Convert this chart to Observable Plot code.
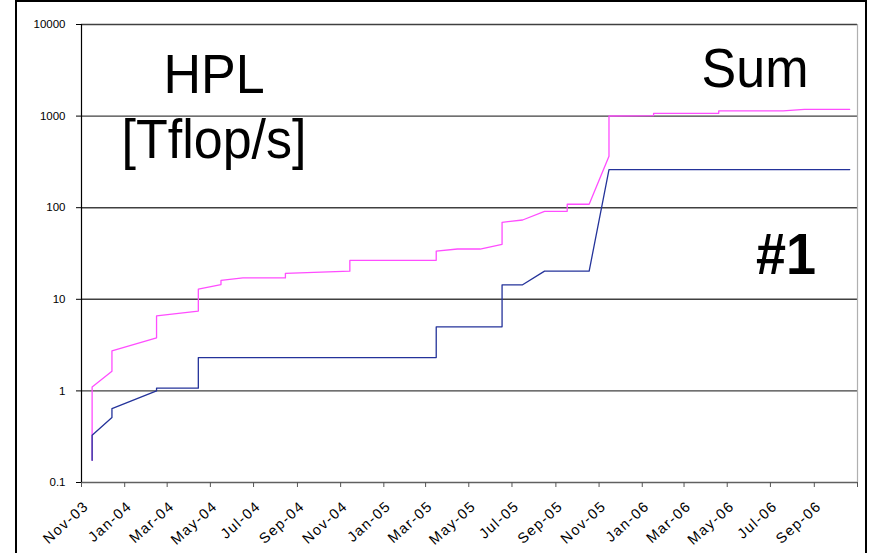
<!DOCTYPE html>
<html><head><meta charset="utf-8">
<script src="https://cdn.jsdelivr.net/npm/d3@7"></script>
<script src="https://cdn.jsdelivr.net/npm/@observablehq/plot@0.6"></script>
<style>
html,body{margin:0;padding:0;background:#fff;}
#wrap{position:relative;width:873px;height:553px;overflow:hidden;font-family:"Liberation Sans",Arial,sans-serif;}
#chart{position:absolute;left:0;top:0;}
#frame{position:absolute;left:15px;top:0px;width:852px;height:580px;border:2px solid #000;box-sizing:border-box;pointer-events:none;}
#notes{position:absolute;left:0;top:0;pointer-events:none;}
</style></head><body>
<div id="wrap"><div id="chart"></div><div id="frame"></div>
<svg id="notes" width="873" height="553" font-family="Liberation Sans, Arial, sans-serif" fill="#000">
  <text transform="translate(214,93) scale(1,1.05)" text-anchor="middle" font-size="52">HPL</text>
  <text transform="translate(214,158) scale(1,1.05)" text-anchor="middle" font-size="52">[Tflop/s]</text>
  <text transform="translate(755,87) scale(1,1.05)" text-anchor="middle" font-size="52">Sum</text>
  <text transform="translate(786,274) scale(1,1.06)" text-anchor="middle" font-size="54" font-weight="bold">#1</text>
</svg>
</div>
<script>
// Series: Sum of HPL performance (pink) and #1 system (blue), Tflop/s
const sumDates = ["2003-11-16","2003-11-16","2003-12-14","2003-12-14","2004-02-15","2004-02-15","2004-04-14","2004-04-14","2004-05-16","2004-05-16","2004-06-16","2004-08-15","2004-08-15","2004-11-14","2004-11-14","2005-03-16","2005-03-16","2005-04-15","2005-05-17","2005-06-17","2005-06-17","2005-07-16","2005-08-16","2005-09-17","2005-09-17","2005-10-18","2005-11-15","2005-11-15","2006-01-17","2006-01-17","2006-04-19","2006-04-19","2006-07-19","2006-08-18","2006-10-21"];
const sumValues = [0.175,1.106,1.64,2.74,3.8,6.6,7.43,12.9,14.5,16.1,17.1,17.1,19.2,20.3,26.6,26.7,33.6,35.4,35.4,39.8,69.2,73.4,91.4,91.4,109,109,364,1002,1010,1071,1071,1138,1138,1187,1187];
const topDates = ["2003-11-16","2003-11-16","2003-12-14","2003-12-14","2004-02-15","2004-02-15","2004-04-14","2004-04-14","2005-03-16","2005-03-16","2005-06-17","2005-06-17","2005-07-16","2005-08-16","2005-10-18","2005-11-15","2006-10-21"];
const topValues = [0.175,0.328,0.512,0.642,1.0,1.07,1.07,2.31,2.31,5.0,5.0,14.4,14.4,20.3,20.3,261,261];

const yTicks = [0.1, 1, 10, 100, 1000, 10000];
const yTickLabels = ["0.1", "1", "10", "100", "1000", "10000"];
const xTickLabels = ["Nov-03","Jan-04","Mar-04","May-04","Jul-04","Sep-04","Nov-04","Jan-05","Mar-05","May-05","Jul-05","Sep-05","Nov-05","Jan-06","Mar-06","May-06","Jul-06","Sep-06"];
const xAxisEnd = "Nov-06";

const parseDay = d3.utcParse("%Y-%m-%d");
const parseTick = d3.utcParse("%b-%y");
const sum = sumDates.map((d, i) => ({date: parseDay(d), value: sumValues[i]}));
const top1 = topDates.map((d, i) => ({date: parseDay(d), value: topValues[i]}));
const tickDates = xTickLabels.concat([xAxisEnd]).map(parseTick);
const xLabels = xTickLabels.map((l, i) => ({date: tickDates[i], label: l}));
const x0 = tickDates[0], x1 = tickDates[tickDates.length - 1];

const chart = Plot.plot({
  width: 873, height: 553,
  marginLeft: 81, marginRight: 16, marginTop: 24, marginBottom: 71,
  style: {fontFamily: "Liberation Sans, Arial, sans-serif", fontSize: "11.5px", color: "#000", background: "transparent"},
  x: {type: "utc", domain: [x0, x1]},
  y: {type: "log", domain: [0.1, 10000]},
  marks: [
    Plot.ruleY(yTicks.slice(1), {stroke: "#404040", strokeWidth: 1.4}),
    Plot.ruleX([x1], {stroke: "#b0b0b0", strokeWidth: 1.2}),
    Plot.ruleY([yTicks[0]], {stroke: "#606060", strokeWidth: 1.4}),
    Plot.ruleX([x0], {stroke: "#000", strokeWidth: 1.2}),
    Plot.axisY({ticks: yTicks, tickFormat: d => yTickLabels[yTicks.indexOf(d)], tickSize: 5, tickPadding: 11, label: null, stroke: "#000"}),
    Plot.axisX({ticks: tickDates, tickFormat: () => "", tickSize: 5, label: null, stroke: "#555"}),
    Plot.text(xLabels, {x: "date", text: "label", frameAnchor: "bottom", rotate: -42, textAnchor: "end", dx: 8, dy: 25, fontSize: 14.5}),
    Plot.line(sum, {x: "date", y: "value", stroke: "#ff4dff", strokeWidth: 1.3}),
    Plot.line(top1, {x: "date", y: "value", stroke: "#24339a", strokeWidth: 1.3})
  ]
});
document.getElementById("chart").appendChild(chart);
d3.select(chart).selectAll('g[aria-label="text"] text').style("letter-spacing", "1.4px");
</script>
</body></html>
